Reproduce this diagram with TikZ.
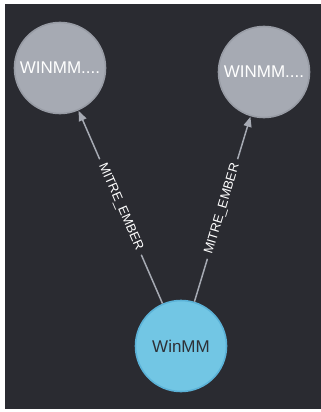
\documentclass[tikz,border=0pt]{standalone}
\usepackage{fontspec}
\setmainfont{Liberation Sans}
\usepackage{xcolor}
\usetikzlibrary{arrows.meta,positioning}
\definecolor{canvas}{HTML}{2A2B31}
\definecolor{nodegray}{HTML}{A6AAB3}
\definecolor{rimgray}{HTML}{989CA5}
\definecolor{nodeblue}{HTML}{72C6E4}
\definecolor{rimblue}{HTML}{5BB2D7}
\definecolor{relgray}{HTML}{A6AAB3}
\definecolor{inkdark}{HTML}{2E3036}
\tikzset{
  graynode/.style={circle,draw=rimgray,fill=nodegray,line width=1.6pt,
                   minimum size=91pt,inner sep=0pt,text=white,
                   font=\fontsize{17}{17}\selectfont},
  bluenode/.style={circle,draw=rimblue,fill=nodeblue,line width=1.6pt,
                   minimum size=91pt,inner sep=0pt,text=inkdark,
                   font=\fontsize{17}{17}\selectfont},
  relarr/.style={-{Triangle[length=10pt,width=8pt]},line width=1.5pt,
                 draw=relgray,shorten >=0.5pt},
  rellabel/.style={sloped,fill=canvas,text=white,inner xsep=5pt,
                   inner ysep=2pt,font=\fontsize{13}{13}\selectfont}
}
\begin{document}
\begin{tikzpicture}[x=1pt,y=-1pt]
    \path[use as bounding box] (0,0) rectangle (321,412);
    \fill[canvas] (5,4) rectangle (321,409);
    \node[graynode] (tech1) at (60,68) {WINMM....};
    \node[graynode] (tech2) at (264,72) {WINMM....};
    \node[bluenode] (winmm) at (181,346) {WinMM};
    \draw[relarr] (winmm) -- node[rellabel] {MITRE\_EMBER} (tech1);
    \draw[relarr] (winmm) -- node[rellabel] {MITRE\_EMBER} (tech2);
  \end{tikzpicture}
\end{document}
